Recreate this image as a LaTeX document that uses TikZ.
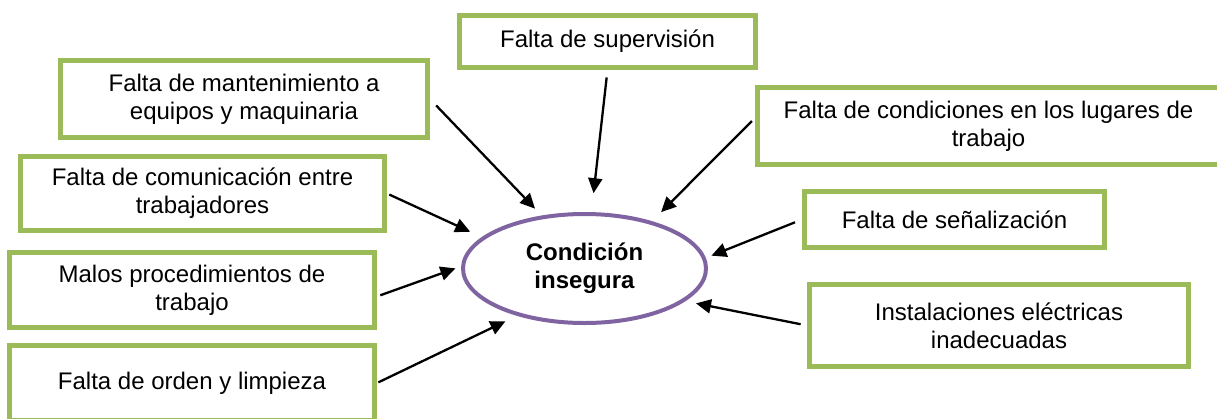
\documentclass[tikz,border=0pt]{standalone}
\usepackage{fontspec}
\setmainfont{Liberation Sans}
\usetikzlibrary{shapes.geometric,arrows.meta}
\definecolor{boxgreen}{HTML}{9BBB59}
\definecolor{ellpurple}{HTML}{8064A2}
\begin{document}
\begin{tikzpicture}[x=1pt,y=-1pt,
  cause/.style={draw=boxgreen, line width=5pt, fill=white, rectangle, inner sep=0pt,
    align=center, font=\fontsize{24}{28}\selectfont},
  effect/.style={draw=ellpurple, line width=4pt, ellipse, inner sep=0pt,
    align=center, font=\fontsize{24}{28}\selectfont\bfseries,
    minimum width=243pt, minimum height=109pt},
  arr/.style={draw=black, line width=2.3pt, -{Triangle[length=15pt,width=14pt]}}]
\useasboundingbox (0,0) rectangle (1217,418);
\clip (0,0) rectangle (1217,418);

\node[cause, minimum width=367pt, minimum height=77pt] (b1) at (244,99)
  {Falta de mantenimiento a\\equipos y maquinaria};
\node[cause, minimum width=364pt, minimum height=74pt] (b2) at (202.5,193.5)
  {Falta de comunicación entre\\trabajadores};
\node[cause, minimum width=365pt, minimum height=75pt] (b3) at (192,290)
  {Malos procedimientos de\\trabajo};
\node[cause, minimum width=365pt, minimum height=75pt] (b4) at (192,383)
  {Falta de orden y limpieza};
\node[cause, minimum width=296pt, minimum height=52pt] (b5) at (607.5,41.5)
  {Falta de supervisión};
\node[cause, minimum width=462pt, minimum height=77pt] (b6) at (988.5,126)
  {Falta de condiciones en los lugares de\\trabajo};
\node[cause, minimum width=300pt, minimum height=56pt] (b7) at (954.5,219.5)
  {Falta de señalización};
\node[cause, minimum width=379pt, minimum height=82pt] (b8) at (999,325.5)
  {Instalaciones eléctricas\\inadecuadas};

\node[effect] (e) at (584.5,268.5) {Condición\\insegura};

\draw[arr, shorten <=9pt, shorten >=9.5pt] (b1.east) -- (e.129);
\draw[arr, shorten <=7.5pt, shorten >=19pt] (b5.south) -- (e.83.4);
\draw[arr, shorten <=4.5pt, shorten >=12.8pt] (b6.178) -- (e.35.3);
\draw[arr, shorten <=2.5pt, shorten >=12.8pt] (b2.east) -- (e.163);
\draw[arr, shorten <=3.5pt, shorten >=6pt] (b3.-2) -- (e.179.8);
\draw[arr, shorten <=1.5pt, shorten >=12.8pt] (b4.east) -- (e.215.3);
\draw[arr, shorten <=7.5pt, shorten >=6pt] (b7.west) -- (e.5.7);
\draw[arr, shorten <=6.5pt, shorten >=11pt] (b8.west) -- (e.-18.1);
\end{tikzpicture}
\end{document}
